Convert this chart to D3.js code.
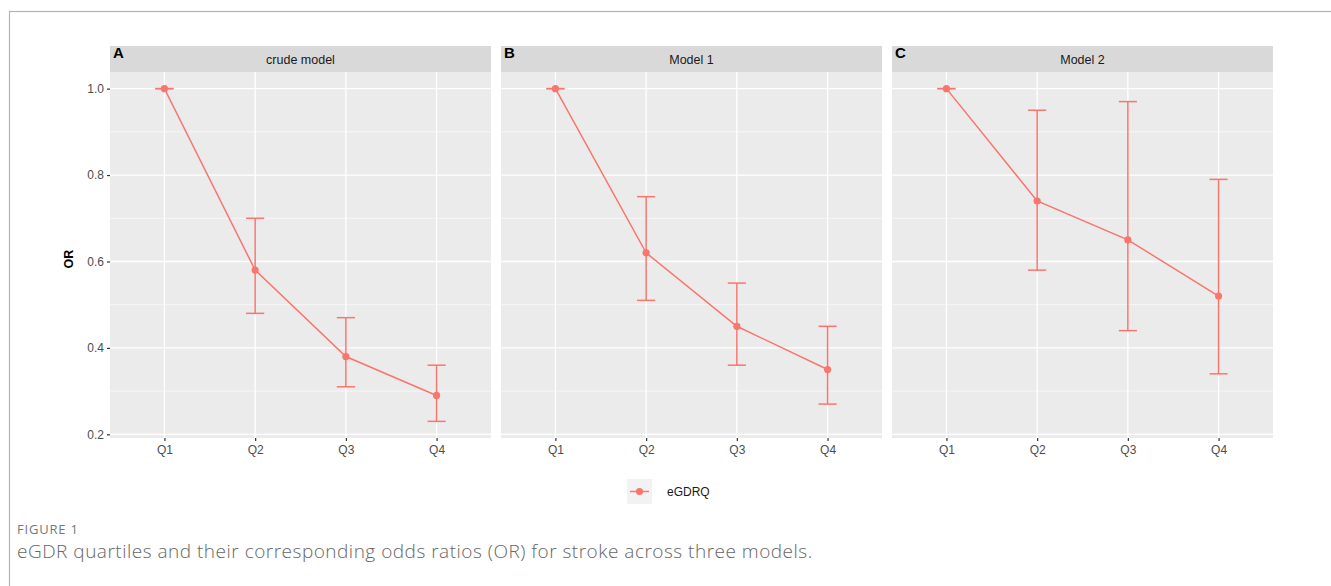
<!DOCTYPE html>
<html>
<head>
<meta charset="utf-8">
<script src="https://cdn.jsdelivr.net/npm/d3@7"></script>
<style>
  body { margin: 0; background: #fff; }
  svg { display: block; }
</style>
</head>
<body>
<div id="chart"></div>
<script>
// data
var quartiles = ["Q1", "Q2", "Q3", "Q4"];
var models = ["crude model", "Model 1", "Model 2"];
var tags = ["A", "B", "C"];
var crudeOR = [1.00, 0.58, 0.38, 0.29];
var crudeLow = [1.00, 0.48, 0.31, 0.23];
var crudeHigh = [1.00, 0.70, 0.47, 0.36];
var model1OR = [1.00, 0.62, 0.45, 0.35];
var model1Low = [1.00, 0.51, 0.36, 0.27];
var model1High = [1.00, 0.75, 0.55, 0.45];
var model2OR = [1.00, 0.74, 0.65, 0.52];
var model2Low = [1.00, 0.58, 0.44, 0.34];
var model2High = [1.00, 0.95, 0.97, 0.79];
var yTicks = [0.2, 0.4, 0.6, 0.8, 1.0];
var yMinor = [0.3, 0.5, 0.7, 0.9];
var legendLabel = "eGDRQ";
var figLabel = "FIGURE 1";
var caption = "eGDR quartiles and their corresponding odds ratios (OR) for stroke across three models.";

var series = [
    {or: crudeOR, lo: crudeLow, hi: crudeHigh},
    {or: model1OR, lo: model1Low, hi: model1High},
    {or: model2OR, lo: model2Low, hi: model2High}
];

var W = 1331, H = 586;
var col = "#F8766D";
var font = "Liberation Sans, Arial, sans-serif";
var panelLeft = [110, 501, 892];
var panelW = 381;
var stripTop = 46, stripH = 26, panelBottom = 438;

var svg = d3.select("#chart").append("svg")
    .attr("width", W).attr("height", H);

// outer frame of the figure
svg.append("rect")
    .attr("x", 9.5).attr("y", 11.5)
    .attr("width", W + 20).attr("height", H + 20)
    .attr("fill", "none").attr("stroke", "#b3b3b3").attr("stroke-width", 1.2);

// shared y scale, ggplot style expansion
var allVals = d3.merge([crudeLow, model1Low, model2Low, crudeHigh, model1High, model2High]);
var ext = d3.extent(allVals);
var pad = (ext[1] - ext[0]) * 0.05;
var y = d3.scaleLinear()
    .domain([ext[0] - pad, ext[1] + pad])
    .range([panelBottom, stripTop + stripH]);

var x = d3.scalePoint().domain(quartiles).range([0, panelW]).padding(0.6);

series.forEach(function (s, i) {
    var g = svg.append("g").attr("transform", "translate(" + panelLeft[i] + ",0)");
    var top = stripTop + stripH;

    // strip
    g.append("rect").attr("x", 0).attr("y", stripTop)
        .attr("width", panelW).attr("height", stripH).attr("fill", "#D9D9D9");
    g.append("text").attr("x", panelW / 2).attr("y", stripTop + stripH / 2 + 4.5)
        .attr("text-anchor", "middle")
        .attr("font-family", font)
        .attr("font-size", 12.5).attr("fill", "#1A1A1A")
        .text(models[i]);

    // panel background
    g.append("rect").attr("x", 0).attr("y", top)
        .attr("width", panelW).attr("height", panelBottom - top).attr("fill", "#EBEBEB");

    // grid
    g.selectAll(".minor").data(yMinor).enter().append("line")
        .attr("x1", 0).attr("x2", panelW)
        .attr("y1", function (d) { return y(d); }).attr("y2", function (d) { return y(d); })
        .attr("stroke", "#fff").attr("stroke-width", 0.6);
    g.selectAll(".major").data(yTicks).enter().append("line")
        .attr("x1", 0).attr("x2", panelW)
        .attr("y1", function (d) { return y(d); }).attr("y2", function (d) { return y(d); })
        .attr("stroke", "#fff").attr("stroke-width", 1.3);
    g.selectAll(".vmajor").data(quartiles).enter().append("line")
        .attr("x1", function (d) { return x(d); }).attr("x2", function (d) { return x(d); })
        .attr("y1", top).attr("y2", panelBottom)
        .attr("stroke", "#fff").attr("stroke-width", 1.3);

    // tag letter
    g.append("text").attr("x", 3).attr("y", stripTop + 12)
        .attr("font-family", font)
        .attr("font-size", 15).attr("font-weight", "bold").attr("fill", "#000")
        .text(tags[i]);

    // x axis
    var xa = g.append("g").attr("transform", "translate(0," + panelBottom + ")")
        .call(d3.axisBottom(x).tickSize(3).tickPadding(4));
    xa.select(".domain").remove();
    xa.selectAll("line").attr("stroke", "#333").attr("stroke-width", 1.2);
    xa.selectAll("text").attr("font-family", font)
        .attr("font-size", 12).attr("fill", "#4D4D4D");

    // y axis on first panel only
    if (i === 0) {
        var ya = g.append("g")
            .call(d3.axisLeft(y).tickValues(yTicks).tickFormat(d3.format(".1f")).tickSize(3).tickPadding(3));
        ya.select(".domain").remove();
        ya.selectAll("line").attr("stroke", "#333").attr("stroke-width", 1.2);
        ya.selectAll("text").attr("font-family", font)
            .attr("font-size", 12).attr("fill", "#4D4D4D");
    }

    var pts = quartiles.map(function (q, k) {
        return {q: q, or: s.or[k], lo: s.lo[k], hi: s.hi[k]};
    });

    // error bars
    var cap = x.step() * 0.1;
    var eb = g.selectAll(".eb").data(pts).enter().append("g");
    eb.append("line")
        .attr("x1", function (d) { return x(d.q); }).attr("x2", function (d) { return x(d.q); })
        .attr("y1", function (d) { return y(d.lo); }).attr("y2", function (d) { return y(d.hi); })
        .attr("stroke", col).attr("stroke-width", 1.5);
    eb.append("line")
        .attr("x1", function (d) { return x(d.q) - cap; }).attr("x2", function (d) { return x(d.q) + cap; })
        .attr("y1", function (d) { return y(d.lo); }).attr("y2", function (d) { return y(d.lo); })
        .attr("stroke", col).attr("stroke-width", 1.5);
    eb.append("line")
        .attr("x1", function (d) { return x(d.q) - cap; }).attr("x2", function (d) { return x(d.q) + cap; })
        .attr("y1", function (d) { return y(d.hi); }).attr("y2", function (d) { return y(d.hi); })
        .attr("stroke", col).attr("stroke-width", 1.5);

    // line and points
    g.append("path").datum(pts)
        .attr("fill", "none").attr("stroke", col).attr("stroke-width", 1.5)
        .attr("d", d3.line().x(function (d) { return x(d.q); }).y(function (d) { return y(d.or); }));
    g.selectAll(".pt").data(pts).enter().append("circle")
        .attr("cx", function (d) { return x(d.q); }).attr("cy", function (d) { return y(d.or); })
        .attr("r", 3.6).attr("fill", col);
});

// y axis title
svg.append("text")
    .attr("transform", "translate(73," + ((stripTop + stripH + panelBottom) / 2 + 4) + ") rotate(-90)")
    .attr("text-anchor", "middle")
    .attr("font-family", font)
    .attr("font-size", 12.5).attr("font-weight", "bold").attr("fill", "#000")
    .text("OR");

// legend
var lg = svg.append("g").attr("transform", "translate(627,479)");
lg.append("rect").attr("width", 25).attr("height", 25).attr("fill", "#F2F2F2");
lg.append("line").attr("x1", 3).attr("x2", 22).attr("y1", 12.5).attr("y2", 12.5)
    .attr("stroke", col).attr("stroke-width", 1.5);
lg.append("circle").attr("cx", 12.5).attr("cy", 12.5).attr("r", 3.6).attr("fill", col);
lg.append("text").attr("x", 40).attr("y", 17)
    .attr("font-family", font)
    .attr("font-size", 12).attr("fill", "#1A1A1A")
    .text(legendLabel);

// caption
svg.append("text").attr("x", 17).attr("y", 534)
    .attr("font-family", "Open Sans, sans-serif")
    .attr("font-size", 13).attr("fill", "#777").attr("letter-spacing", 0.8)
    .text(figLabel);
svg.append("text").attr("x", 17).attr("y", 558)
    .attr("font-family", "Open Sans, sans-serif").attr("font-weight", 300)
    .attr("font-size", 19).attr("fill", "#666").attr("letter-spacing", 0.5)
    .text(caption);
</script>
</body>
</html>
